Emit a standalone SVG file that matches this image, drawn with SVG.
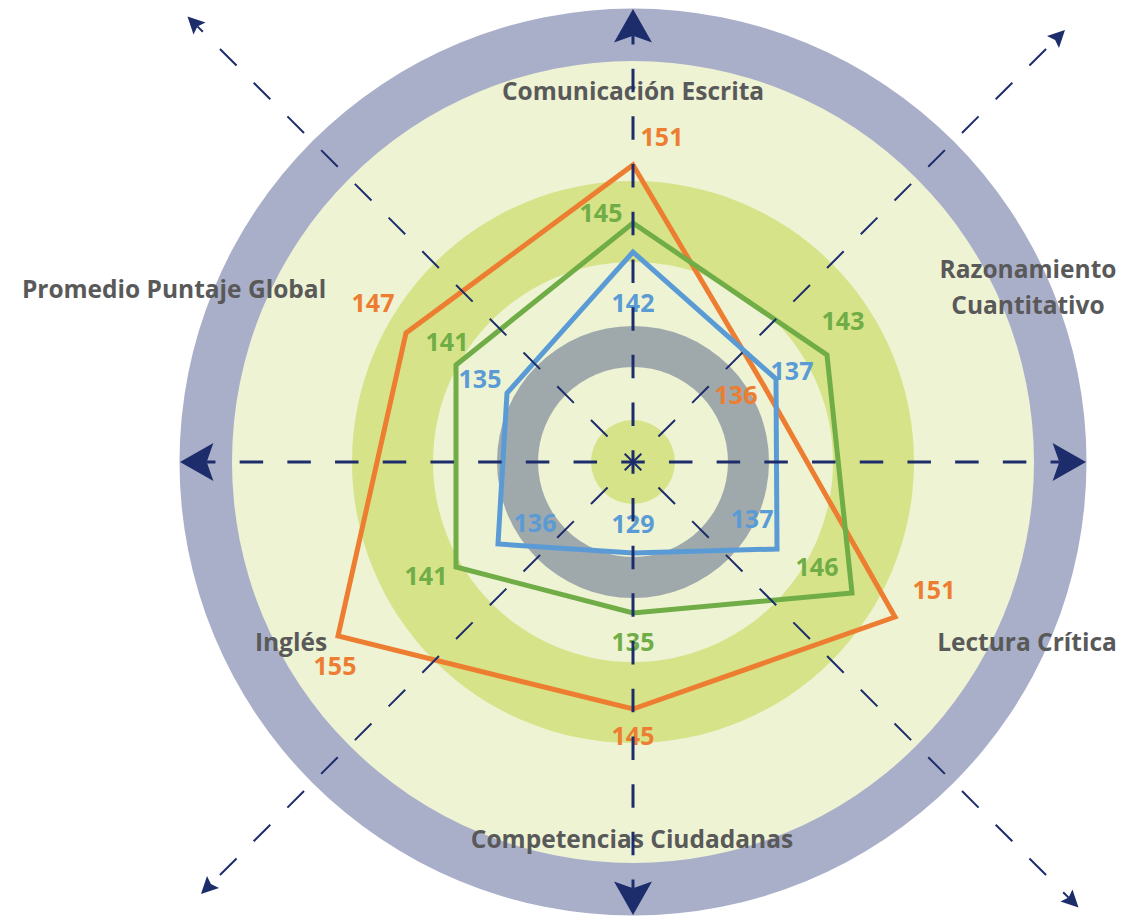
<svg xmlns="http://www.w3.org/2000/svg" width="1145" height="916" viewBox="0 0 1145 916">
  <defs>
    <style>
      .ax { fill: none; stroke: #1D2D6B; stroke-dasharray: 23.5 24.2; stroke-dashoffset: 11.75; }
      .main { stroke-width: 3; }
      .diag { stroke-width: 2; }
      .series { fill: none; stroke-width: 5; stroke-linejoin: miter; }
      .lbl { font-family: "Open Sans", "Noto Sans", sans-serif; font-weight: bold; font-size: 24.5px; fill: #595959; text-anchor: middle; }
      .val { font-family: "Open Sans", "Noto Sans", sans-serif; font-weight: bold; font-size: 25px; text-anchor: middle; }
      .o { fill: #ED7D31; }
      .g { fill: #70AD47; }
      .b { fill: #5B9BD5; }
    </style>
    <marker id="bigArrow" markerUnits="userSpaceOnUse" markerWidth="1" markerHeight="1" refX="0" refY="0" orient="auto" overflow="visible">
      <path d="M26.7,0 L-6.7,-19 L0,0 L-6.7,19 Z" fill="#1D2D6B"/>
    </marker>
    <marker id="smallArrow" markerUnits="userSpaceOnUse" markerWidth="1" markerHeight="1" refX="0" refY="0" orient="auto" overflow="visible">
      <path d="M14,0 L-3,-8.5 L0,0 L-3,8.5 Z" fill="#1D2D6B"/>
    </marker>
  </defs>

  <g id="background">
    <circle cx="633" cy="462" r="453.5" fill="#A9AFC9"/>
    <circle cx="633" cy="462" r="401" fill="#EEF3D4"/>
    <circle cx="633" cy="462" r="281" fill="#D6E389"/>
    <circle cx="633" cy="462" r="200" fill="#EEF3D4"/>
    <circle cx="633" cy="462" r="136" fill="#9FA8AB"/>
    <circle cx="633" cy="462" r="95" fill="#EEF3D4"/>
    <circle cx="633" cy="462" r="42" fill="#D6E389"/>
  </g>

  <g id="axis-labels">
    <text class="lbl" x="633" y="100">Comunicación Escrita</text>
    <text class="lbl" x="1028" y="278">Razonamiento</text>
    <text class="lbl" x="1028" y="314">Cuantitativo</text>
    <text class="lbl" x="1027" y="651">Lectura Crítica</text>
    <text class="lbl" x="632" y="848">Competencias Ciudadanas</text>
    <text class="lbl" x="291" y="651">Inglés</text>
    <text class="lbl" x="174" y="298">Promedio Puntaje Global</text>
  </g>

  <g id="series-orange">
    <polygon class="series" stroke="#ED7D31" points="633,165 764,386 895,617 633,709 338,636 406,333"/>
  </g>
  <g id="series-green">
    <polygon class="series" stroke="#70AD47" points="633,223 827,355 852,593 633,613 456,567 456,365"/>
  </g>
  <g id="series-blue">
    <polygon class="series" stroke="#5B9BD5" points="633,252 776,379 777,549 633,553 498,544 507,393"/>
  </g>

  <g id="value-labels">
    <text class="val o" x="662" y="146">151</text>
    <text class="val g" x="601" y="222">145</text>
    <text class="val b" x="633" y="312">142</text>
    <text class="val g" x="843" y="330">143</text>
    <text class="val b" x="792" y="380">137</text>
    <text class="val o" x="736" y="404">136</text>
    <text class="val b" x="752" y="528">137</text>
    <text class="val g" x="817" y="576">146</text>
    <text class="val o" x="934" y="599">151</text>
    <text class="val o" x="373" y="312">147</text>
    <text class="val g" x="447" y="351">141</text>
    <text class="val b" x="480" y="388">135</text>
    <text class="val b" x="535" y="532">136</text>
    <text class="val g" x="426" y="585">141</text>
    <text class="val o" x="335" y="675">155</text>
    <text class="val b" x="633" y="533">129</text>
    <text class="val g" x="633" y="651">135</text>
    <text class="val o" x="633" y="745">145</text>
  </g>

  <g id="connectors">
    <path class="ax main" d="M633,462 L633,35.7" marker-end="url(#bigArrow)"/>
    <path class="ax main" d="M633,462 L633,888.3" marker-end="url(#bigArrow)"/>
    <path class="ax main" d="M633,462 L206.7,462" marker-end="url(#bigArrow)"/>
    <path class="ax main" d="M633,462 L1059.3,462" marker-end="url(#bigArrow)"/>
    <path class="ax diag" d="M633,462 L197.4,26.4" marker-end="url(#smallArrow)"/>
    <path class="ax diag" d="M633,462 L1068.6,897.6" marker-end="url(#smallArrow)"/>
    <path class="ax diag" d="M633,462 L1055.1,39.9" marker-end="url(#smallArrow)"/>
    <path class="ax diag" d="M633,462 L210.9,884.1" marker-end="url(#smallArrow)"/>
  </g>
</svg>
